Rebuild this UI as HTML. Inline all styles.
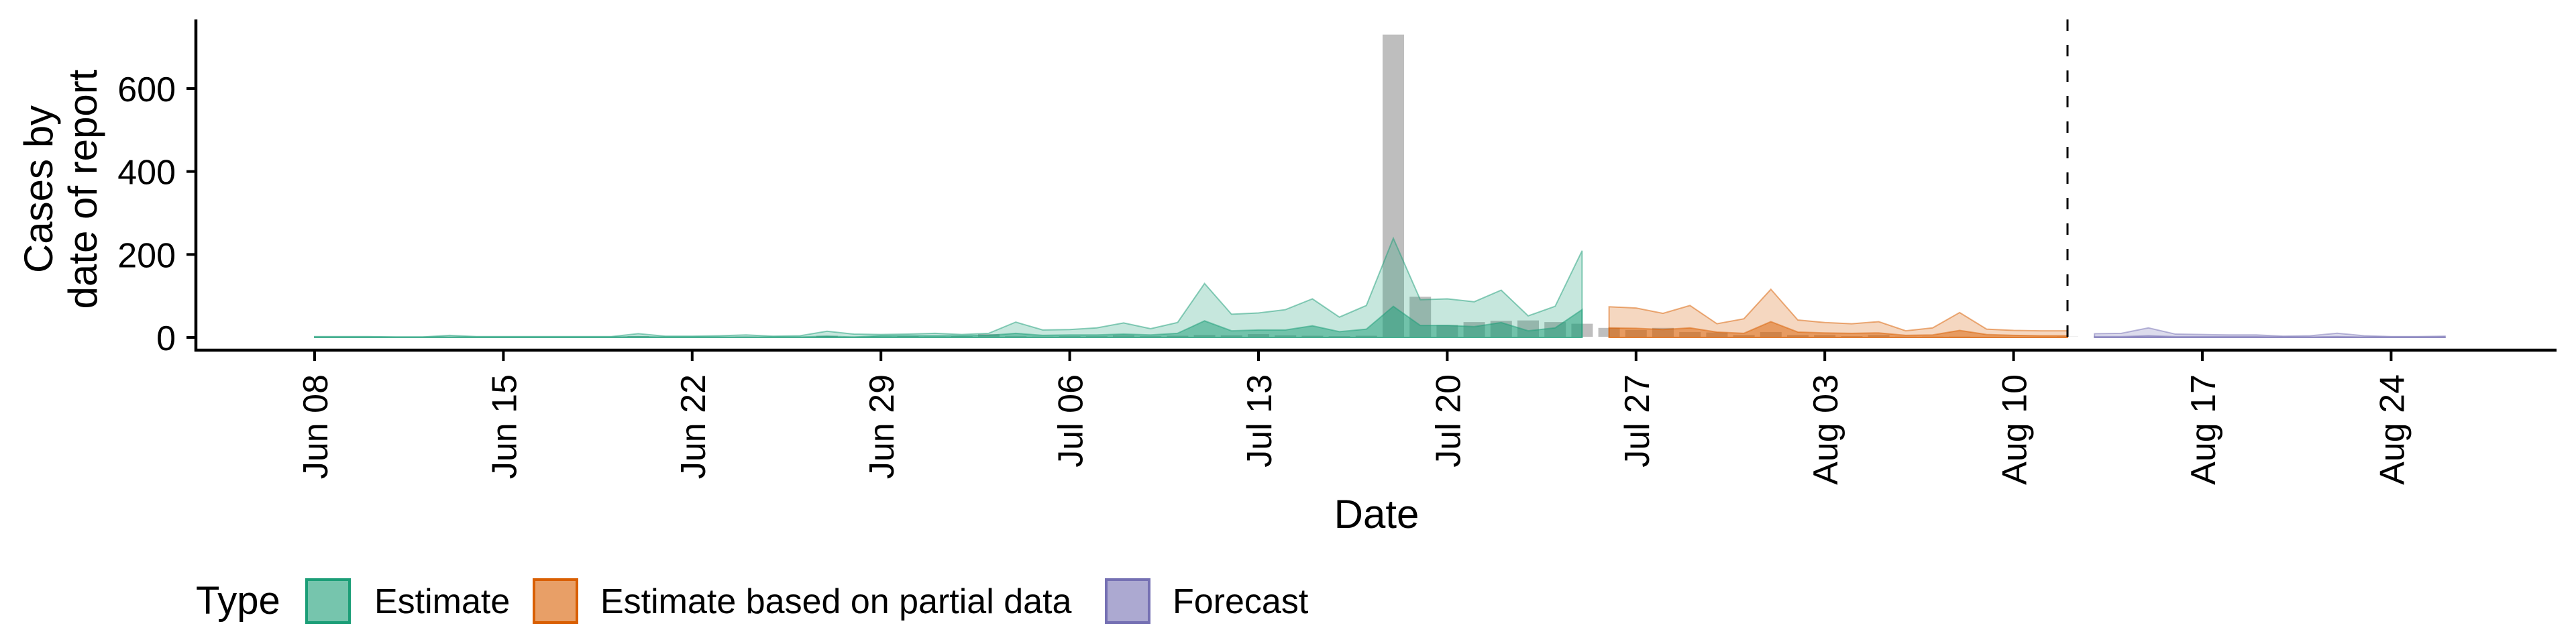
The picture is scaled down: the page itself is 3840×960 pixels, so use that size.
<!DOCTYPE html>
<html><head><meta charset="utf-8"><style>
html,body{margin:0;padding:0;background:#fff;}
svg{display:block;font-family:"Liberation Sans",Arial,sans-serif;}
</style></head><body>
<svg id="chart" width="3840" height="960" viewBox="0 0 3840 960" xmlns="http://www.w3.org/2000/svg">
<rect x="0" y="0" width="3840" height="960" fill="#fff"/>
<g id="bars"></g>
<g id="ribbons"></g>
<g id="axes"></g>
<g>
<text x="292" y="915" font-size="58">Type</text>
<rect x="457" y="864" width="64" height="64" fill="#1b9e77" fill-opacity="0.6" stroke="#1b9e77" stroke-width="4"/>
<text x="558" y="914" font-size="52">Estimate</text>
<rect x="796" y="864" width="64" height="64" fill="#d95f02" fill-opacity="0.6" stroke="#d95f02" stroke-width="4"/>
<text x="895" y="914" font-size="52">Estimate based on partial data</text>
<rect x="1649" y="864" width="64" height="64" fill="#7570b3" fill-opacity="0.6" stroke="#7570b3" stroke-width="4"/>
<text x="1748" y="914" font-size="52">Forecast</text>
</g>
</svg>
<script>
// day index 0 = Jun 08
const observed = [1,1,1,1,1,2,1,1,1,1,1,1,3,1,1,1,2,1,1,4,2,
 2,3,2,3,8,3,2,3,3,5,3,4,6,5,8,5,4,3,4,730,98,30,37,40,41,37,33,
 23,18,23,13,12,6,13,6,6,3,6,2,2,2,1,1,1,2];
const estStart = 0;
const estOuter = [2,2,2,1,1,5,2,2,2,2,2,2,9,3,3,4,6,3,4,15,8,
 7,8,10,7,10,37,18,19,23,35,21,36,130,56,59,67,93,49,77,239,91,93,86,114,52,75,209];
const estInner = [1,1,1,1,1,1,1,1,1,1,1,1,2,1,1,1,1,1,1,3,1,
 4,4,4,4,5,10,5,6,6,8,6,10,40,16,18,18,28,14,20,75,29,29,26,36,16,23,67];
const partStart = 48;
const partOuter = [74,71,58,77,33,45,116,42,36,33,38,16,23,60,20,17,16,16];
const partInner = [23,22,19,23,13,10,38,13,11,10,11,5,6,17,7,5,4,4];
const foreStart = 66;
const foreOuter = [9,10,23,8,7,6,6,3,4,10,4,2,2,3];
const foreInner = [2,2,4,2,2,2,2,1,1,2,1,1,1,1];
const xTickDays = [0,7,14,21,28,35,42,49,56,63,70,77];
const xTickLabels = ["Jun 08","Jun 15","Jun 22","Jun 29","Jul 06","Jul 13","Jul 20","Jul 27","Aug 03","Aug 10","Aug 17","Aug 24"];
const yTicks = [0,200,400,600];
const forecastDay = 65;

const NS = "http://www.w3.org/2000/svg";
function X(d){ return 469 + 40.2*d; }
function Y(v){ return 503 - v*(371/600); }
function mk(tag, attrs, parent){
  const e = document.createElementNS(NS, tag);
  for (const k in attrs) e.setAttribute(k, attrs[k]);
  parent.appendChild(e); return e;
}
const bars = document.getElementById('bars');
observed.forEach((v,i)=>{
  const r = mk('rect',{x:X(i)-16, y:Y(v), width:32, height:Math.max(0,Y(0)-Y(v)-1), fill:'#bebebe'}, bars);
  
  
});
const rib = document.getElementById('ribbons');
function band(start, vals, color, op, name){
  let d = 'M'+X(start)+','+Y(0);
  vals.forEach((v,i)=>{ d += ' L'+X(start+i)+','+Y(v); });
  d += ' L'+X(start+vals.length-1)+','+Y(0)+' Z';
  const p = mk('path',{d:d, fill:color, 'fill-opacity':op, stroke:color, 'stroke-opacity':0.5, 'stroke-width':2}, rib);
  
  
}
band(estStart, estOuter, '#1b9e77', 0.25, 'estimate-outer-band');
band(estStart, estInner, '#1b9e77', 0.5, 'estimate-inner-band');
band(partStart, partOuter, '#d95f02', 0.25, 'partial-outer-band');
band(partStart, partInner, '#d95f02', 0.5, 'partial-inner-band');
band(foreStart, foreOuter, '#7570b3', 0.25, 'forecast-outer-band');
band(foreStart, foreInner, '#7570b3', 0.5, 'forecast-inner-band');

const ax = document.getElementById('axes');
let l = mk('line',{x1:X(forecastDay),x2:X(forecastDay),y1:29,y2:522,stroke:'#000','stroke-width':3,'stroke-dasharray':'17 21'}, ax);


l = mk('line',{x1:292,x2:292,y1:29,y2:524,stroke:'#000','stroke-width':4.5}, ax);


l = mk('line',{x1:290,x2:3811,y1:522,y2:522,stroke:'#000','stroke-width':4.5}, ax);


yTicks.forEach(v=>{
  const t = mk('line',{x1:278,x2:292,y1:Y(v),y2:Y(v),stroke:'#000','stroke-width':4}, ax);
  
  
  const tx = mk('text',{x:262,y:Y(v)+19,'text-anchor':'end','font-size':52}, ax);
  tx.textContent = v;
  
  
});
xTickDays.forEach((d,i)=>{
  const t = mk('line',{x1:X(d),x2:X(d),y1:522,y2:538,stroke:'#000','stroke-width':4}, ax);
  
  
  const tx = mk('text',{x:0,y:0,'text-anchor':'end','font-size':52,transform:'translate('+(X(d)+19)+',558) rotate(-90)'}, ax);
  tx.textContent = xTickLabels[i];
  
  
});
let tt = mk('text',{x:2052,y:787,'text-anchor':'middle','font-size':60}, ax);
tt.textContent = 'Date';


tt = mk('text',{'text-anchor':'middle','font-size':60,transform:'translate(78,282) rotate(-90)'}, ax);


const s1 = mk('tspan',{x:0,y:0}, tt); s1.textContent = 'Cases by';
const s2 = mk('tspan',{x:0,dy:66}, tt); s2.textContent = 'date of report';
</script>
</body></html>
